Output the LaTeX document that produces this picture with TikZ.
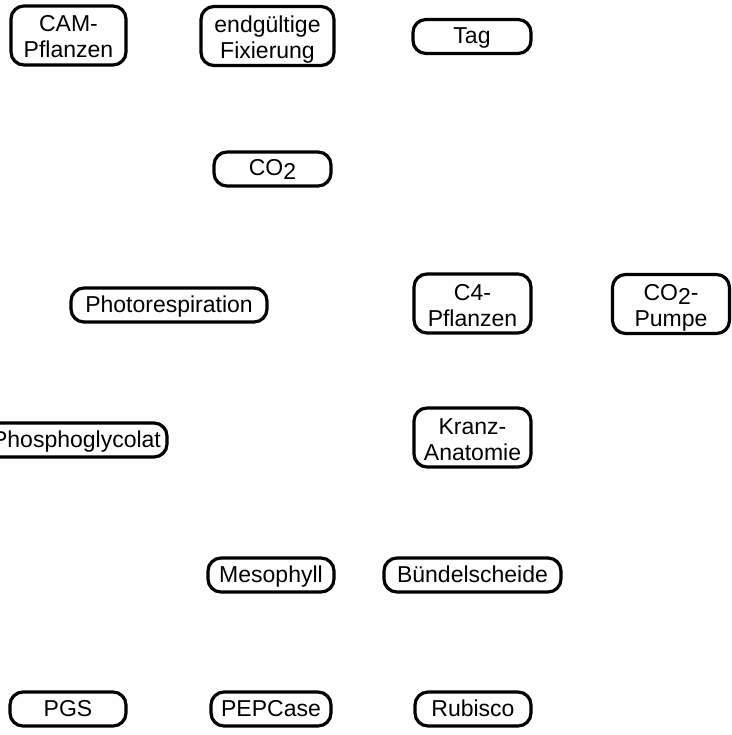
\documentclass[tikz,border=0pt]{standalone}
\usepackage{fontspec}
\setmainfont{Liberation Sans}
% CO2 with a lowered digit
\newcommand\cotwo{CO\raisebox{-3.5pt}{2}}
\begin{document}
\begin{tikzpicture}[x=1pt,y=-1pt,
  concept/.style={draw, line width=3.2pt, rounded corners=13pt, inner sep=0pt,
    align=center, font=\fontsize{23}{26}\selectfont},
  single/.style={concept, minimum height=34, text height=14pt, text depth=0pt},
  double/.style={concept, minimum height=59, text height=45pt, text depth=0pt},
]
\useasboundingbox (0,0) rectangle (731,735);
% top row
\node[double, minimum width=115] (cam)   at (68.5,35.5)  {CAM-\\Pflanzen};
\node[double, minimum width=133] (fix)   at (267.5,36)   {endgültige\\Fixierung};
\node[single, minimum width=118] (tag)   at (472,36.5)   {Tag};
% CO2
\node[single, minimum width=117] (co2)   at (272.5,169)  {\cotwo};
% middle rows
\node[single, minimum width=196] (photo) at (169,305)    {Photorespiration};
\node[double, minimum width=117] (c4)    at (472.5,303.5){C4-\\Pflanzen};
\node[double, minimum width=117] (pump)  at (671,304)    {\cotwo-\\Pumpe};
\node[single, minimum width=181] (pglyc) at (76.5,440)   {Phosphoglycolat};
\node[double, minimum width=117] (kranz) at (472.5,437.5){Kranz-\\Anatomie};
% tissues
\node[single, minimum width=126] (meso)  at (271,575)    {Mesophyll};
\node[single, minimum width=177] (bsh)   at (472.5,575)  {Bündelscheide};
% enzymes
\node[single, minimum width=116] (pgs)   at (68,709)     {PGS};
\node[single, minimum width=120] (pep)   at (271,709)    {PEPCase};
\node[single, minimum width=116] (rub)   at (473,709)    {Rubisco};
\end{tikzpicture}
\end{document}
